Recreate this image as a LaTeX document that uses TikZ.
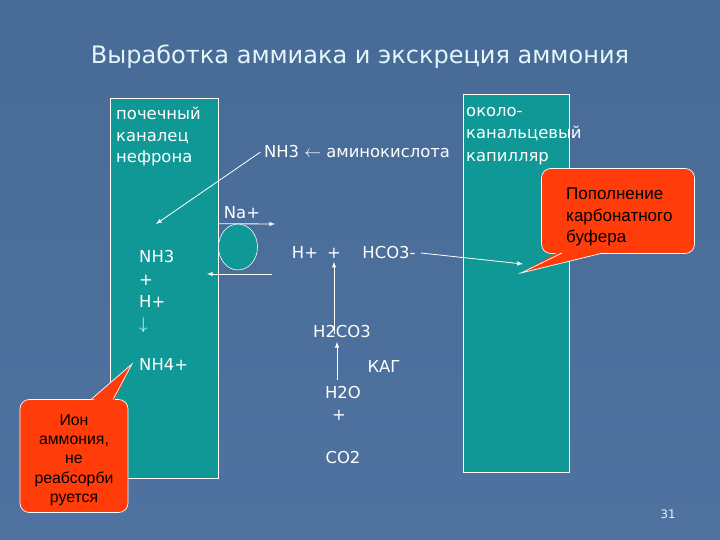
\documentclass[tikz,border=0pt]{standalone}
\usepackage{fontspec}
\setmainfont{DejaVu Sans}
\newfontfamily\notefont{Liberation Sans}
\usetikzlibrary{positioning,shapes.geometric}

\definecolor{slideblue}{RGB}{80,114,160}
\definecolor{slidedeep}{RGB}{72,106,150}
\definecolor{tealbox}{RGB}{16,152,150}
\definecolor{notered}{RGB}{255,60,10}
\definecolor{titlewhite}{RGB}{228,246,252}

\tikzset{
  lbl/.style={text=white, font=\fontsize{14}{17}\selectfont, inner sep=0pt},
  conn/.style={->, >=latex, white, line width=0.7pt},
  cellbox/.style={draw=white, fill=tealbox, line width=0.6pt, inner sep=0pt, anchor=north west},
  notebox/.style={fill=notered, draw=white, line width=0.6pt, rounded corners=8pt, inner sep=0pt},
  notetext/.style={text=black, inner sep=0pt},
  notetail/.style={fill=notered, draw=white, line width=0.6pt, line join=miter}
}

\begin{document}
\begin{tikzpicture}[x=0.03cm, y=-0.03cm]
  % background of the slide
  \shade[top color=slidedeep, bottom color=slideblue] (0,0) rectangle (720,540);
  \useasboundingbox (0,0) rectangle (720,540);

  \node[text=titlewhite, font=\fontsize{20.5}{24}\selectfont] (title) at (360,57)
    {Выработка аммиака и экскреция аммония};

  % tubule and capillary
  \node[cellbox, minimum width=3.24cm, minimum height=11.4cm] (tubule) at (110,98) {};
  \node[cellbox, minimum width=3.18cm, minimum height=11.34cm] (capillary) at (463,94) {};
  \node[lbl, anchor=north west, align=left, font=\fontsize{14}{18.4}\selectfont] (tubtext) at (116,107)
    {почечный\\каналец\\нефрона};
  \node[lbl, anchor=north west, align=left, font=\fontsize{14}{19.2}\selectfont] (captext) at (466,107)
    {около-\\канальцевый\\капилляр};

  % exchanger
  \node[ellipse, draw=white, fill=tealbox, minimum width=1.17cm, minimum height=1.38cm, inner sep=0pt,
    line width=0.5pt] (pump) at (238,247) {};
  \node[lbl] (na) at (242,213) {Na+};
  \coordinate (naend) at (275,224);
  \coordinate (hstart) at (272,274);
  \coordinate (hend) at (207,274);

  \node[lbl] (amino) at (357,152) {NH3 $\leftarrow$ аминокислота};
  \coordinate (nhtip) at (156,224);

  % inside the tubule
  \node[lbl, anchor=west] (nhthree) at (139,257) {NH3};
  \node[lbl, anchor=west] (plusn) at (139,280) {+};
  \node[lbl, anchor=west] (hion) at (139,302) {H+};
  \node[lbl, anchor=west] (downarr) at (139,325) {$\downarrow$};
  \node[lbl, anchor=west] (nhfour) at (139,365) {NH4+};

  % carbonic acid
  \node[lbl] (hplus) at (305,253) {H+};
  \node[lbl] (plusa) at (334,253) {+};
  \node[lbl] (hco) at (389,253) {HCO3-};
  \node[lbl] (h2co3) at (342,332) {H2CO3};
  \node[lbl] (kag) at (384,367) {КАГ};
  \node[lbl] (water) at (343,393) {H2O};
  \node[lbl] (plusw) at (339,415) {+};
  \node[lbl] (co) at (343,458) {CO2};
  \coordinate (hcotip) at (523,264);

  \draw[conn] (tubule.east |- pump.north) -- (naend);
  \draw[conn] (hstart) -- (hend);
  \draw[conn] ([xshift=-0.1cm]amino.west) -- (nhtip);
  \draw[conn] ([yshift=-0.25cm]h2co3.north -| plusa.south) -- ([yshift=-0.1cm]plusa.south);
  \draw[conn] ([xshift=-0.18cm,yshift=0.2cm]water.north) -- ([xshift=-0.18cm,yshift=-0.1cm]water.north |- h2co3.south);
  \draw[conn] ([xshift=0.15cm]hco.east) -- (hcotip);

  % notes
  \node[notebox, minimum width=4.59cm, minimum height=2.55cm] (buffer) at (618,211) {};
  \coordinate (buftip) at (521,273);
  \fill[notered] (562,250) -- (buftip) -- (603,250) -- cycle;
  \draw[notetail] (562,253) -- (buftip) -- (603,253);
  \node[notetext, anchor=west, align=left, font=\notefont\fontsize{14.5}{18.5}\selectfont] (buftext) at (566,217)
    {Пополнение\\карбонатного\\ буфера};

  \node[notebox, minimum width=3.24cm, minimum height=3.39cm] (ammon) at (74,456) {};
  \coordinate (amtip) at (132,364);
  \fill[notered] (91,403) -- (amtip) -- (113,403) -- cycle;
  \draw[notetail] (91,399.5) -- (amtip) -- (113,399.5);
  \node[notetext, align=center, font=\notefont\fontsize{13.5}{16.5}\selectfont] (amtext) at (74,460)
    {Ион\\аммония,\\не\\реабсорби\\руется};

  \node[text=titlewhite, font=\fontsize{10}{12}\selectfont] (page) at (668,514) {31};
\end{tikzpicture}
\end{document}
